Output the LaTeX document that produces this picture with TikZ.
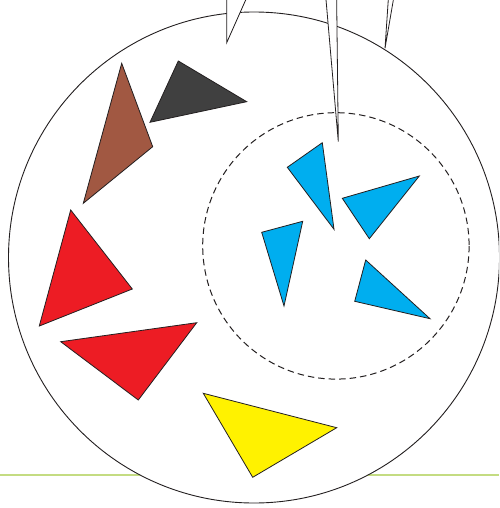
\documentclass[tikz,border=0pt]{standalone}
\definecolor{bowlline}{HTML}{231F20}
\definecolor{floorgreen}{HTML}{C4DC82}
\definecolor{piecebrown}{HTML}{A15842}
\definecolor{piecegrey}{HTML}{404040}
\definecolor{piecered}{HTML}{ED1C24}
\definecolor{pieceblue}{HTML}{00AEEF}
\definecolor{pieceyellow}{HTML}{FFF200}
\tikzset{
  bowl ring/.style={
    draw=bowlline, fill=white, line width=0.9pt
  },
  bowl group/.style={
    draw=bowlline, line width=1pt,
    dash pattern=on 6.5pt off 4pt
  },
  bowl piece/.style={
    draw=bowlline, line width=0.8pt, line join=miter
  },
  bowl spike/.style={
    draw=bowlline, fill=white, line width=0.8pt, line join=miter
  },
  floor line/.style={
    draw=floorgreen, line width=2pt
  }
}
\begin{document}
\begin{tikzpicture}[x=1pt,y=-1pt]
  \useasboundingbox (0,0) rectangle (499,508);
  \clip (0,0) rectangle (499,508);

  % Floor line runs behind the white bowl.
  \draw[floor line] (0,474.5) -- (499,474.5);
  \draw[bowl ring] (254,257.5) circle[radius=245.5];
  \draw[bowl group] (335.9,245.9) circle[radius=133.2];

  % Loose pieces round the left edge.
  \filldraw[bowl piece,fill=piecebrown] (121.7,63.3) -- (152.7,146.7) -- (83.3,203.3) -- cycle;
  \filldraw[bowl piece,fill=piecegrey] (178.3,61) -- (246.7,101.7) -- (150,122.3) -- cycle;
  \filldraw[bowl piece,fill=piecered] (70.7,210) -- (132.3,289) -- (39.3,326) -- cycle;
  \filldraw[bowl piece,fill=piecered] (60.7,341.7) -- (196.7,322.7) -- (138.3,400) -- cycle;
  \filldraw[bowl piece,fill=pieceyellow] (203.3,393.3) -- (336.7,427.7) -- (252.7,477.3) -- cycle;

  % The grouped pieces inside the dashed ring.
  \filldraw[bowl piece,fill=pieceblue] (287.3,167.3) -- (322.3,142.7) -- (334,229.3) -- cycle;
  \filldraw[bowl piece,fill=pieceblue] (342.3,198.3) -- (419.3,176) -- (369.3,238.7) -- cycle;
  \filldraw[bowl piece,fill=pieceblue] (261.7,232.3) -- (302.7,221.3) -- (284,306) -- cycle;
  \filldraw[bowl piece,fill=pieceblue] (365.7,260) -- (430,318.7) -- (354.7,301.3) -- cycle;

  % Spikes reaching down from above the picture.
  \filldraw[bowl spike] (226.7,-5) -- (226.7,42.7) -- (247.9,-5);
  \filldraw[bowl spike] (325.6,-5) -- (338.3,141.7) -- (336.6,-5);
  \filldraw[bowl spike] (388.6,-5) -- (385,48.3) -- (394.2,-5);
\end{tikzpicture}
\end{document}
